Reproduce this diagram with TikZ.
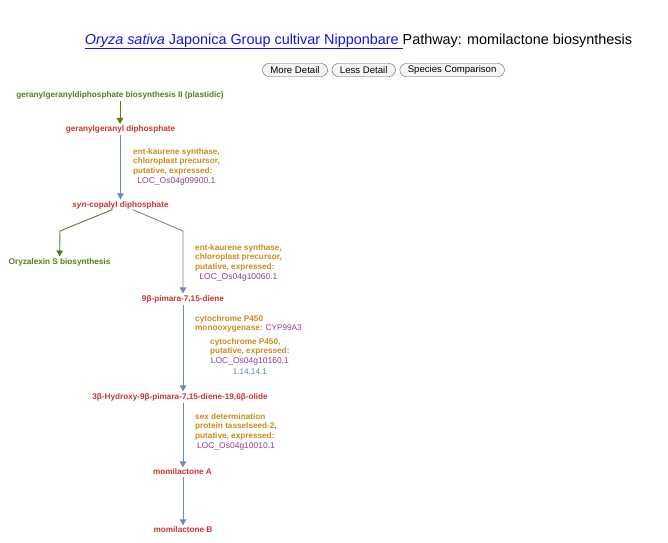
\documentclass[tikz,border=0pt]{standalone}
\usepackage{fontspec}
\setmainfont{Liberation Sans}
\usepackage{tikz}
\usetikzlibrary{arrows.meta,positioning,calc}
\definecolor{CmpdRed}{RGB}{204,51,51}
\definecolor{PwyGreen}{RGB}{85,125,25}
\definecolor{EnzGold}{RGB}{200,140,30}
\definecolor{GenePurple}{RGB}{150,60,150}
\definecolor{EcBlue}{RGB}{100,130,165}
\definecolor{LineBlue}{RGB}{110,140,172}
\definecolor{LinkBlue}{RGB}{20,20,225}
\newcommand{\smallbold}{\fontsize{8.2}{9.6}\selectfont\bfseries}
\tikzset{
  cmpd/.style={text=CmpdRed,font=\smallbold,inner sep=1.5pt},
  pwy/.style={text=PwyGreen,font=\smallbold,inner sep=1.5pt},
  enz/.style={text=EnzGold,font=\smallbold,align=left,inner sep=0pt,
    anchor=north west},
  gene/.style={text=GenePurple,font=\fontsize{8.5}{10}\selectfont,inner sep=0pt},
  ecnum/.style={text=EcBlue,font=\fontsize{8.2}{10}\selectfont,inner sep=0pt},
  btn/.style={draw=gray!70!black,fill=gray!8,rounded corners=6.5pt,
    minimum height=13pt,inner xsep=8pt,inner ysep=0pt,
    font=\fontsize{9.6}{10}\selectfont},
  rxn/.style={-{Triangle[width=6.5pt,length=6pt]},LineBlue,line width=0.9pt},
  link/.style={-{Triangle[width=6.5pt,length=6pt]},PwyGreen,line width=0.9pt}
}

\begin{document}
\begin{tikzpicture}[x=1pt,y=-1pt]
  \useasboundingbox[fill=white] (0,0) rectangle (668,542);
  % heading and buttons
  \node[font=\fontsize{14.4}{16}\selectfont] (title) at (358.5,41.5)
    {{\color{LinkBlue}\underline{\textit{Oryza sativa} Japonica Group cultivar Nipponbare }}Pathway: momilactone biosynthesis};
  \node[btn] (more) at (295,70) {More Detail};
  \node[btn,right=4pt of more] (less) {Less Detail};
  \node[btn,right=4pt of less] (species) {Species Comparison};

  % compounds and linked pathways
  \node[pwy] (ggpp-pwy) at (120,95) {geranylgeranyldiphosphate biosynthesis II (plastidic)};
  \node[cmpd] (ggpp) at (120.5,129.5) {geranylgeranyl diphosphate};
  \node[cmpd] (scp) at (120.5,205) {\textit{syn}-copalyl diphosphate};
  \node[pwy] (oryz) at (59.5,262) {Oryzalexin S biosynthesis};
  \node[cmpd] (pim) at (183,299) {9β-pimara-7,15-diene};
  \node[cmpd] (hyd) at (180,397) {3β-Hydroxy-9β-pimara-7,15-diene-19,6β-olide};
  \node[cmpd] (momA) at (182.5,472) {momilactone A};
  \node[cmpd] (momB) at (183,530) {momilactone B};

  % enzymes
  \node[enz] (enz1) at (133,148) {ent-kaurene synthase,\\chloroplast precursor,\\putative, expressed:};
  \node[gene,below=2pt of enz1] (gene1) {LOC\_Os04g09900.1};
  \node[enz] (enz2) at (195,244) {ent-kaurene synthase,\\chloroplast precursor,\\putative, expressed:};
  \node[gene,below=2pt of enz2] (gene2) {LOC\_Os04g10060.1};
  \node[enz] (enz3) at (195,315) {cytochrome P450\\monooxygenase: {\mdseries\color{GenePurple}CYP99A3}};
  \node[enz] (enz3b) at (210,338) {cytochrome P450,\\putative, expressed:};
  \node[gene,below=2pt of enz3b] (gene3) {LOC\_Os04g10160.1};
  \node[ecnum,below=2.5pt of gene3] (ec3) {1.14.14.1};
  \node[enz] (enz4) at (195,413) {sex determination\\protein tasselseed-2,\\putative, expressed:};
  \node[gene,below=2pt of enz4] (gene4) {LOC\_Os04g10010.1};

  % reactions
  \coordinate (oryz-bend) at (60,231);
  \coordinate (pim-bend) at (183,231);
  \draw[link] (ggpp-pwy) -- (ggpp-pwy |- ggpp.north);
  \draw[rxn] (ggpp) -- (ggpp |- scp.north);
  \draw[link] ($(scp.south)+(-8,-1)$) -- (oryz-bend) -- (oryz);
  \draw[rxn] ($(scp.south)+(12,-1)$) -- (pim-bend) -- (pim);
  \draw[rxn] (pim) -- (pim |- hyd.north);
  \draw[rxn] (hyd.south -| pim) -- (pim |- momA.north);
  \draw[rxn] (momA.south -| pim) -- (pim |- momB.north);
\end{tikzpicture}
\end{document}
